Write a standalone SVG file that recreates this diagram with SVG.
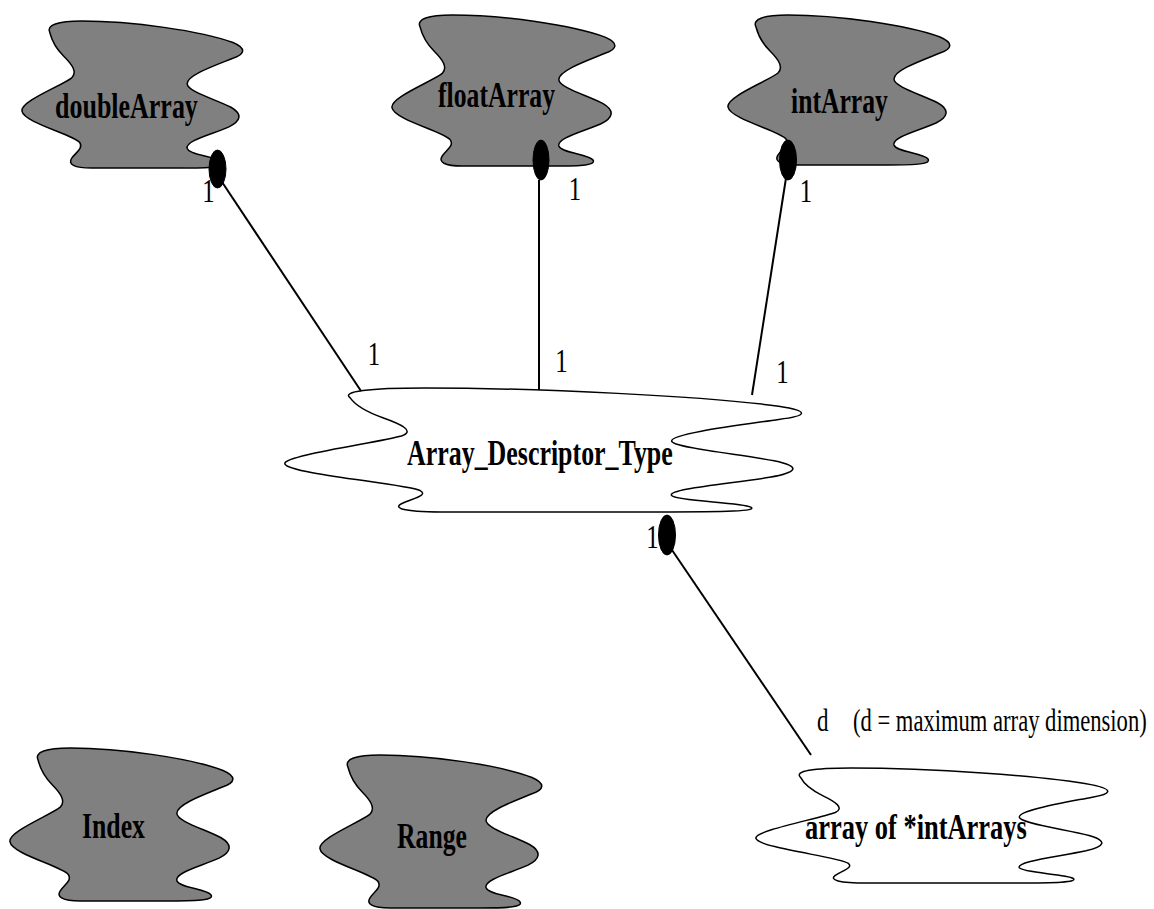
<svg xmlns="http://www.w3.org/2000/svg" width="1154" height="909" viewBox="0 0 1154 909">
  <style>
    .grey { fill: #808080; stroke: #000; stroke-width: 1.5; }
    .white { fill: #fff; stroke: #000; stroke-width: 1.5; }
    .lbl { font-family: "Liberation Serif", "Times New Roman", serif; font-weight: bold; font-size: 36px; fill: #000; }
    .mult { font-family: "Liberation Serif", "Times New Roman", serif; font-size: 33px; fill: #000; text-anchor: middle; }
    .note { font-family: "Liberation Serif", "Times New Roman", serif; font-size: 32px; fill: #000; }
    .conn { stroke: #000; stroke-width: 2; fill: none; }
    .dot { fill: #000; stroke: #000; stroke-width: 1; }
  </style>
  <defs>
    <path id="cloud" vector-effect="non-scaling-stroke" d="M 28 12 C 24 4, 36 0, 60 0 C 110 0, 180 10, 212 22 C 226 28, 224 34, 212 38 C 195 45, 166 55, 166 64 C 166 72, 195 80, 210 88 C 222 95, 220 102, 208 108 C 190 116, 164 122, 166 130 C 168 137, 196 138, 200 144 C 203 149, 190 150, 160 150 L 70 150 C 52 150, 46 146, 50 140 C 54 134, 62 130, 58 124 C 52 116, 2 104, 0 92 C -2 82, 40 66, 50 58 C 56 52, 50 44, 42 36 C 34 28, 30 20, 28 12 Z"/>
  </defs>

  <g id="doubleArray">
    <use href="#cloud" class="grey" transform="translate(22,21) scale(0.995,0.98)"/>
    <text class="lbl" transform="translate(55,118) scale(0.722,1)">doubleArray</text>
  </g>
  <g id="floatArray">
    <use href="#cloud" class="grey" transform="translate(392,15) scale(1.005,1.007)"/>
    <text class="lbl" transform="translate(438,107) scale(0.714,1)">floatArray</text>
  </g>
  <g id="intArray">
    <use href="#cloud" class="grey" transform="translate(728,15)"/>
    <text class="lbl" transform="translate(791,113) scale(0.713,1)">intArray</text>
  </g>
  <g id="Array_Descriptor_Type">
    <use href="#cloud" class="white" transform="translate(285,388) scale(2.329,0.827)"/>
    <text class="lbl" transform="translate(407,465) scale(0.72,1)">Array_Descriptor_Type</text>
  </g>
  <g id="arrayOfIntArrays">
    <use href="#cloud" class="white" transform="translate(756,768) scale(1.586,0.767)"/>
    <text class="lbl" transform="translate(805,839) scale(0.735,1)">array of *intArrays</text>
  </g>
  <g id="Index">
    <use href="#cloud" class="grey" transform="translate(10,748) scale(1.005,1.02)"/>
    <text class="lbl" transform="translate(82,838) scale(0.716,1)">Index</text>
  </g>
  <g id="Range">
    <use href="#cloud" class="grey" transform="translate(320,755) scale(1,1.02)"/>
    <text class="lbl" transform="translate(397,848) scale(0.714,1)">Range</text>
  </g>

  <g id="connectors">
    <line class="conn" x1="222" y1="182" x2="361" y2="391"/>
    <line class="conn" x1="539" y1="180" x2="539" y2="390"/>
    <line class="conn" x1="786" y1="178" x2="752" y2="395"/>
    <line class="conn" x1="672" y1="550" x2="811" y2="755"/>
    <ellipse class="dot" cx="217.5" cy="169" rx="8.5" ry="19"/>
    <ellipse class="dot" cx="541" cy="160" rx="8" ry="20"/>
    <ellipse class="dot" cx="788" cy="160" rx="8.5" ry="20"/>
    <ellipse class="dot" cx="667" cy="535" rx="8.5" ry="20"/>
    <text class="mult" transform="translate(208.5,202) scale(0.75,1)">1</text>
    <text class="mult" transform="translate(575,200) scale(0.75,1)">1</text>
    <text class="mult" transform="translate(806,202) scale(0.75,1)">1</text>
    <text class="mult" transform="translate(374,365) scale(0.75,1)">1</text>
    <text class="mult" transform="translate(561.5,372) scale(0.75,1)">1</text>
    <text class="mult" transform="translate(782.5,383) scale(0.75,1)">1</text>
    <text class="mult" transform="translate(652.5,548) scale(0.75,1)">1</text>
    <text class="note" transform="translate(817,731) scale(0.72,1)">d</text>
    <text class="note" transform="translate(853,731) scale(0.706,1)">(d = maximum array dimension)</text>
  </g>
</svg>
